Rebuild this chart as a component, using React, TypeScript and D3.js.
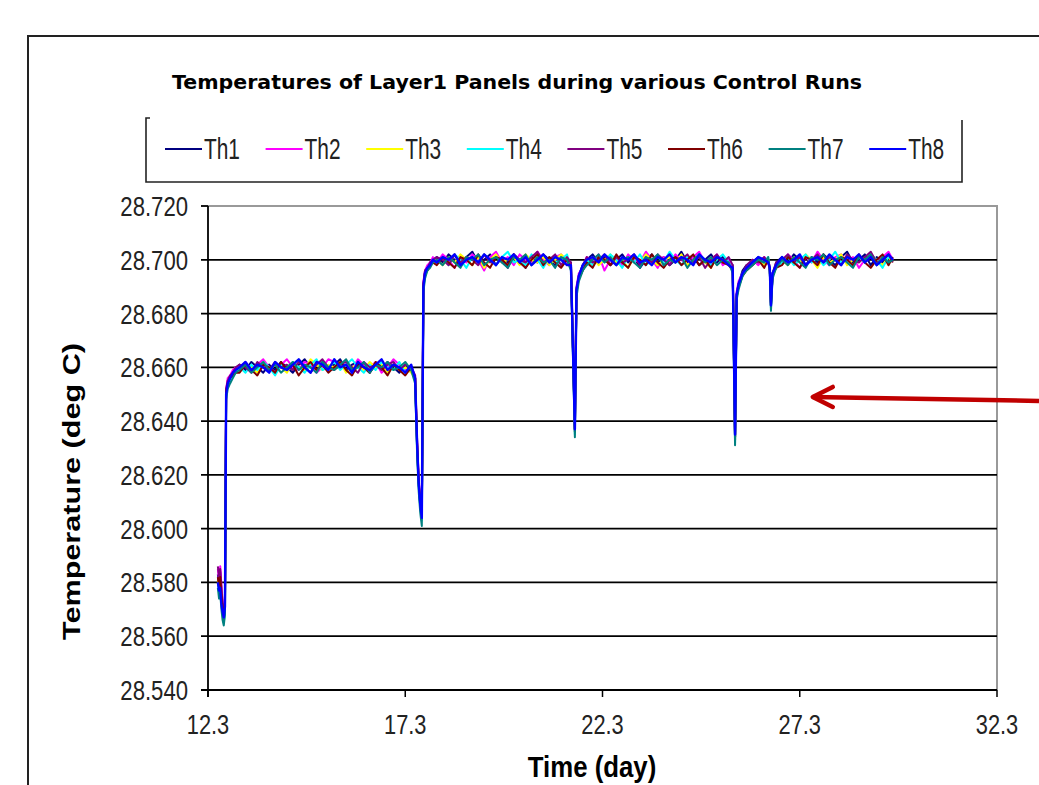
import React from 'react';
import * as d3 from 'd3';

// time axis shared by all eight thermistors (day)
const days = [
  12.55, 12.58, 12.61, 12.64, 12.67, 12.70, 12.73, 12.76, 12.80, 12.86, 12.93, 13.00,
  13.10, 13.25, 13.40, 13.55, 13.70, 13.85, 14.00, 14.15, 14.30, 14.45, 14.60, 14.75, 14.90, 15.05, 15.20,
  15.35, 15.50, 15.65, 15.80, 15.95, 16.10, 16.25, 16.40, 16.55, 16.70, 16.85, 17.00, 17.15, 17.30, 17.45,
  17.55, 17.60, 17.64, 17.68, 17.72, 17.76, 17.80, 17.86, 17.93, 18.00,
  18.10, 18.25, 18.40, 18.55, 18.70, 18.85, 19.00, 19.15, 19.30, 19.45, 19.60, 19.75, 19.90, 20.05, 20.20,
  20.35, 20.50, 20.65, 20.80, 20.95, 21.10, 21.25, 21.40,
  21.50, 21.60, 21.64, 21.70, 21.80,
  21.90, 22.05, 22.20, 22.35, 22.50, 22.65, 22.80, 22.95, 23.10, 23.25, 23.40, 23.55, 23.70, 23.85, 24.00,
  24.15, 24.30, 24.45, 24.60, 24.75, 24.90, 25.05, 25.20, 25.35, 25.50,
  25.60, 25.66, 25.70, 25.75, 25.85, 25.95,
  26.10, 26.25, 26.40, 26.50,
  26.54, 26.57, 26.61, 26.70,
  26.85, 27.00, 27.15, 27.30, 27.45, 27.60, 27.75, 27.90, 28.05, 28.20, 28.35, 28.50, 28.65, 28.80, 28.95,
  29.10, 29.25, 29.40, 29.55, 29.66,
];

const th1 = [
  28.583, 28.579, 28.584, 28.577, 28.571, 28.567, 28.571, 28.651, 28.655, 28.656, 28.658, 28.659,
  28.661, 28.659, 28.662, 28.660, 28.658, 28.661, 28.659, 28.662, 28.660, 28.658, 28.661, 28.663, 28.660, 28.659, 28.662,
  28.660, 28.661, 28.663, 28.659, 28.661, 28.662, 28.660, 28.658, 28.661, 28.659, 28.662, 28.660, 28.658, 28.661, 28.659,
  28.656, 28.631, 28.617, 28.609, 28.604, 28.691, 28.695, 28.697, 28.699, 28.700,
  28.701, 28.699, 28.702, 28.700, 28.698, 28.701, 28.703, 28.699, 28.700, 28.702, 28.698, 28.701, 28.699, 28.702, 28.700,
  28.697, 28.701, 28.699, 28.702, 28.700, 28.698, 28.701, 28.699,
  28.699, 28.637, 28.689, 28.694, 28.698,
  28.700, 28.702, 28.699, 28.701, 28.698, 28.700, 28.702, 28.699, 28.701, 28.697, 28.700, 28.702, 28.699, 28.701, 28.698,
  28.700, 28.703, 28.699, 28.701, 28.698, 28.700, 28.702, 28.699, 28.701, 28.699,
  28.698, 28.634, 28.687, 28.691, 28.696, 28.698,
  28.699, 28.701, 28.698, 28.700,
  28.697, 28.683, 28.694, 28.699,
  28.701, 28.699, 28.702, 28.700, 28.698, 28.701, 28.699, 28.702, 28.700, 28.698, 28.701, 28.703, 28.699, 28.700, 28.702,
  28.698, 28.701, 28.699, 28.702, 28.700,
];

const th2 = [
  28.585, 28.581, 28.586, 28.579, 28.573, 28.568, 28.574, 28.652, 28.656, 28.657, 28.659, 28.660,
  28.660, 28.662, 28.659, 28.661, 28.663, 28.660, 28.658, 28.661, 28.663, 28.660, 28.659, 28.662, 28.661, 28.658, 28.660,
  28.663, 28.662, 28.660, 28.661, 28.659, 28.663, 28.661, 28.660, 28.662, 28.658, 28.660, 28.663, 28.661, 28.659, 28.660,
  28.657, 28.633, 28.619, 28.611, 28.606, 28.692, 28.696, 28.698, 28.699, 28.701,
  28.699, 28.702, 28.700, 28.697, 28.701, 28.699, 28.702, 28.700, 28.696, 28.701, 28.703, 28.699, 28.701, 28.698, 28.702,
  28.700, 28.699, 28.703, 28.700, 28.698, 28.701, 28.702, 28.699,
  28.698, 28.638, 28.690, 28.695, 28.697,
  28.701, 28.699, 28.702, 28.696, 28.700, 28.701, 28.698, 28.702, 28.700, 28.699, 28.703, 28.700, 28.697, 28.701, 28.699,
  28.702, 28.700, 28.698, 28.701, 28.703, 28.699, 28.700, 28.702, 28.698, 28.700,
  28.697, 28.635, 28.688, 28.692, 28.695, 28.697,
  28.700, 28.698, 28.701, 28.699,
  28.698, 28.684, 28.695, 28.698,
  28.699, 28.702, 28.700, 28.697, 28.701, 28.699, 28.703, 28.700, 28.698, 28.701, 28.702, 28.699, 28.701, 28.697, 28.700,
  28.702, 28.699, 28.701, 28.703, 28.700,
];

const th3 = [
  28.581, 28.577, 28.580, 28.574, 28.569, 28.566, 28.570, 28.650, 28.654, 28.655, 28.657, 28.659,
  28.659, 28.661, 28.660, 28.658, 28.662, 28.659, 28.661, 28.660, 28.658, 28.662, 28.660, 28.659, 28.663, 28.661, 28.659,
  28.661, 28.660, 28.662, 28.658, 28.660, 28.661, 28.659, 28.662, 28.660, 28.661, 28.658, 28.661, 28.659, 28.660, 28.658,
  28.656, 28.632, 28.617, 28.610, 28.605, 28.690, 28.694, 28.696, 28.698, 28.699,
  28.700, 28.698, 28.701, 28.699, 28.702, 28.700, 28.698, 28.701, 28.697, 28.700, 28.702, 28.699, 28.700, 28.701, 28.698,
  28.702, 28.700, 28.699, 28.701, 28.698, 28.700, 28.702, 28.700,
  28.698, 28.637, 28.689, 28.693, 28.697,
  28.699, 28.701, 28.698, 28.700, 28.702, 28.699, 28.700, 28.697, 28.701, 28.699, 28.702, 28.700, 28.698, 28.700, 28.701,
  28.699, 28.702, 28.698, 28.700, 28.701, 28.699, 28.697, 28.701, 28.700, 28.698,
  28.697, 28.634, 28.686, 28.690, 28.695, 28.697,
  28.699, 28.700, 28.698, 28.700,
  28.697, 28.683, 28.694, 28.698,
  28.700, 28.698, 28.701, 28.699, 28.702, 28.700, 28.697, 28.701, 28.699, 28.700, 28.702, 28.698, 28.700, 28.701, 28.699,
  28.702, 28.700, 28.698, 28.701, 28.699,
];

const th4 = [
  28.580, 28.576, 28.579, 28.573, 28.568, 28.565, 28.569, 28.649, 28.653, 28.655, 28.657, 28.658,
  28.660, 28.658, 28.661, 28.659, 28.662, 28.660, 28.657, 28.661, 28.659, 28.662, 28.660, 28.658, 28.661, 28.663, 28.659,
  28.660, 28.662, 28.659, 28.661, 28.663, 28.660, 28.658, 28.661, 28.659, 28.662, 28.660, 28.659, 28.662, 28.658, 28.660,
  28.655, 28.630, 28.616, 28.608, 28.603, 28.689, 28.694, 28.696, 28.698, 28.700,
  28.699, 28.701, 28.698, 28.702, 28.700, 28.697, 28.701, 28.699, 28.702, 28.700, 28.698, 28.701, 28.703, 28.699, 28.700,
  28.698, 28.702, 28.700, 28.697, 28.701, 28.699, 28.700, 28.702,
  28.697, 28.635, 28.688, 28.693, 28.697,
  28.700, 28.698, 28.701, 28.699, 28.702, 28.700, 28.697, 28.701, 28.699, 28.702, 28.698, 28.700, 28.701, 28.699, 28.703,
  28.700, 28.698, 28.701, 28.699, 28.702, 28.700, 28.698, 28.700, 28.702, 28.699,
  28.696, 28.632, 28.686, 28.690, 28.694, 28.697,
  28.698, 28.700, 28.699, 28.701,
  28.696, 28.682, 28.694, 28.697,
  28.699, 28.701, 28.698, 28.700, 28.702, 28.699, 28.701, 28.698, 28.700, 28.703, 28.699, 28.700, 28.698, 28.701, 28.699,
  28.702, 28.700, 28.697, 28.701, 28.700,
];

const th5 = [
  28.586, 28.582, 28.585, 28.578, 28.572, 28.568, 28.573, 28.652, 28.655, 28.657, 28.658, 28.660,
  28.661, 28.660, 28.658, 28.662, 28.660, 28.659, 28.662, 28.660, 28.661, 28.659, 28.662, 28.660, 28.658, 28.661, 28.663,
  28.660, 28.659, 28.661, 28.662, 28.660, 28.658, 28.662, 28.660, 28.661, 28.659, 28.661, 28.662, 28.659, 28.661, 28.660,
  28.657, 28.633, 28.618, 28.610, 28.605, 28.691, 28.696, 28.697, 28.699, 28.700,
  28.701, 28.700, 28.698, 28.702, 28.699, 28.701, 28.700, 28.698, 28.702, 28.699, 28.701, 28.700, 28.697, 28.702, 28.700,
  28.699, 28.701, 28.703, 28.699, 28.700, 28.702, 28.698, 28.701,
  28.699, 28.637, 28.689, 28.694, 28.698,
  28.701, 28.699, 28.700, 28.702, 28.698, 28.701, 28.699, 28.700, 28.702, 28.698, 28.701, 28.699, 28.702, 28.700, 28.698,
  28.701, 28.700, 28.702, 28.699, 28.701, 28.697, 28.700, 28.702, 28.699, 28.701,
  28.698, 28.634, 28.687, 28.691, 28.695, 28.698,
  28.700, 28.699, 28.701, 28.699,
  28.697, 28.684, 28.695, 28.699,
  28.700, 28.702, 28.699, 28.701, 28.698, 28.700, 28.702, 28.699, 28.701, 28.700, 28.698, 28.702, 28.700, 28.699, 28.701,
  28.703, 28.699, 28.700, 28.702, 28.699,
];

const th6 = [
  28.582, 28.578, 28.582, 28.575, 28.570, 28.567, 28.572, 28.651, 28.654, 28.656, 28.657, 28.658,
  28.658, 28.661, 28.659, 28.657, 28.661, 28.660, 28.658, 28.662, 28.659, 28.661, 28.657, 28.660, 28.662, 28.659, 28.661,
  28.658, 28.660, 28.662, 28.659, 28.657, 28.661, 28.660, 28.658, 28.662, 28.660, 28.657, 28.661, 28.659, 28.657, 28.660,
  28.656, 28.631, 28.617, 28.609, 28.604, 28.690, 28.695, 28.696, 28.698, 28.699,
  28.698, 28.701, 28.699, 28.697, 28.701, 28.700, 28.698, 28.702, 28.699, 28.697, 28.701, 28.700, 28.698, 28.702, 28.699,
  28.697, 28.700, 28.702, 28.698, 28.701, 28.699, 28.697, 28.700,
  28.697, 28.636, 28.688, 28.693, 28.696,
  28.699, 28.697, 28.701, 28.700, 28.698, 28.702, 28.699, 28.697, 28.701, 28.700, 28.698, 28.702, 28.699, 28.697, 28.700,
  28.701, 28.698, 28.700, 28.702, 28.698, 28.700, 28.697, 28.701, 28.699, 28.698,
  28.696, 28.633, 28.686, 28.690, 28.694, 28.696,
  28.698, 28.700, 28.697, 28.700,
  28.696, 28.683, 28.694, 28.697,
  28.698, 28.701, 28.699, 28.697, 28.701, 28.700, 28.698, 28.702, 28.699, 28.697, 28.701, 28.700, 28.698, 28.702, 28.699,
  28.697, 28.700, 28.702, 28.698, 28.701,
];

const th7 = [
  28.578, 28.574, 28.576, 28.570, 28.566, 28.564, 28.568, 28.648, 28.652, 28.654, 28.656, 28.658,
  28.659, 28.661, 28.658, 28.660, 28.662, 28.659, 28.661, 28.658, 28.660, 28.662, 28.659, 28.661, 28.660, 28.658, 28.662,
  28.660, 28.659, 28.661, 28.663, 28.659, 28.660, 28.662, 28.658, 28.661, 28.660, 28.662, 28.659, 28.660, 28.662, 28.659,
  28.654, 28.628, 28.614, 28.606, 28.601, 28.688, 28.693, 28.696, 28.697, 28.699,
  28.700, 28.698, 28.701, 28.699, 28.697, 28.701, 28.700, 28.702, 28.698, 28.700, 28.701, 28.699, 28.697, 28.701, 28.700,
  28.702, 28.698, 28.701, 28.699, 28.700, 28.697, 28.701, 28.700,
  28.696, 28.634, 28.686, 28.692, 28.696,
  28.698, 28.700, 28.702, 28.699, 28.701, 28.698, 28.700, 28.701, 28.699, 28.697, 28.701, 28.700, 28.702, 28.698, 28.700,
  28.699, 28.701, 28.697, 28.700, 28.702, 28.699, 28.701, 28.698, 28.700, 28.699,
  28.695, 28.631, 28.685, 28.689, 28.694, 28.696,
  28.698, 28.700, 28.699, 28.701,
  28.696, 28.681, 28.693, 28.697,
  28.700, 28.698, 28.701, 28.699, 28.697, 28.701, 28.700, 28.702, 28.698, 28.700, 28.701, 28.699, 28.697, 28.701, 28.700,
  28.702, 28.698, 28.701, 28.699, 28.700,
];

const th8 = [
  28.580, 28.577, 28.578, 28.572, 28.569, 28.567, 28.571, 28.650, 28.654, 28.656, 28.658, 28.659,
  28.660, 28.662, 28.659, 28.661, 28.660, 28.658, 28.662, 28.660, 28.659, 28.661, 28.663, 28.660, 28.658, 28.662, 28.661,
  28.659, 28.663, 28.660, 28.661, 28.658, 28.662, 28.660, 28.659, 28.661, 28.663, 28.659, 28.661, 28.660, 28.658, 28.661,
  28.656, 28.632, 28.617, 28.609, 28.604, 28.690, 28.695, 28.697, 28.698, 28.700,
  28.699, 28.701, 28.700, 28.702, 28.698, 28.700, 28.701, 28.699, 28.702, 28.700, 28.698, 28.701, 28.700, 28.702, 28.699,
  28.701, 28.698, 28.700, 28.702, 28.699, 28.701, 28.700, 28.698,
  28.698, 28.637, 28.689, 28.694, 28.698,
  28.700, 28.701, 28.699, 28.702, 28.700, 28.698, 28.701, 28.700, 28.702, 28.699, 28.700, 28.698, 28.701, 28.700, 28.702,
  28.699, 28.701, 28.700, 28.698, 28.702, 28.700, 28.699, 28.701, 28.700, 28.698,
  28.697, 28.635, 28.687, 28.691, 28.695, 28.697,
  28.699, 28.701, 28.700, 28.699,
  28.697, 28.683, 28.695, 28.698,
  28.701, 28.699, 28.700, 28.702, 28.698, 28.700, 28.701, 28.699, 28.702, 28.700, 28.698, 28.701, 28.700, 28.702, 28.699,
  28.701, 28.698, 28.700, 28.702, 28.700,
];

const seriesNames = ['Th1', 'Th2', 'Th3', 'Th4', 'Th5', 'Th6', 'Th7', 'Th8'];
const seriesColors = ['#000080', '#ff00ff', '#ffff00', '#00ffff', '#800080', '#800000', '#008080', '#0000ff'];
const xTicks = [12.3, 17.3, 22.3, 27.3, 32.3];
const yTicks = [28.54, 28.56, 28.58, 28.6, 28.62, 28.64, 28.66, 28.68, 28.7, 28.72];

const W = 1039;
const H = 785;
const plot = { left: 208, right: 997, top: 206, bottom: 690 };
const narrow = "'Liberation Sans', Arial, sans-serif";

export default function App() {
  const x = d3.scaleLinear().domain([12.3, 32.3]).range([plot.left, plot.right]);
  const y = d3.scaleLinear().domain([28.54, 28.72]).range([plot.bottom, plot.top]);
  const values = [th1, th2, th3, th4, th5, th6, th7, th8];
  const line = d3.line<number>()
    .x((_, i) => x(days[i]))
    .y(d => y(d));
  const fmt = d3.format('.3f');

  // arrow pointing into the chart (annotation)
  const tipX = x(27.63), tipY = y(28.649);

  return (
    <svg width={W} height={H} style={{ position: 'absolute', left: 0, top: 0, background: '#fff' }}>
      {/* outer frame */}
      <path d={`M28,${H} V36 H${W}`} fill="none" stroke="#222" strokeWidth={2} />

      <text x={172} y={89} fontFamily="'DejaVu Sans', sans-serif" fontWeight="bold" fontSize={20}
        textLength={690} lengthAdjust="spacingAndGlyphs" fill="#000">
        Temperatures of Layer1 Panels during various Control Runs
      </text>

      {/* legend box (top edge clipped in the original) */}
      <path d="M150,118 H146 V182 H962 V120" fill="none" stroke="#222" strokeWidth={1.6} />
      {seriesNames.map((name, i) => {
        const lx = 165 + i * 100.6;
        return (
          <g key={name}>
            <line x1={lx} x2={lx + 37} y1={149} y2={149} stroke={seriesColors[i]} strokeWidth={2} />
            <text transform={`translate(${lx + 39},159) scale(0.72,1)`} fontFamily={narrow} fontSize={29} fill="#222">
              {name}
            </text>
          </g>
        );
      })}

      {/* plot border */}
      <path d={`M${plot.left},${plot.top} H${plot.right} V${plot.bottom}`} fill="none" stroke="#999" strokeWidth={2} />

      {/* gridlines + y ticks */}
      {yTicks.map(t => (
        t < 28.715 ? (
          <line key={'g' + t} x1={plot.left - 7} x2={plot.right} y1={y(t)} y2={y(t)} stroke="#000" strokeWidth={1.8} />
        ) : (
          <line key={'g' + t} x1={plot.left - 7} x2={plot.left} y1={y(t)} y2={y(t)} stroke="#000" strokeWidth={1.8} />
        )
      ))}
      {yTicks.map(t => (
        <text key={'yl' + t} transform={`translate(188,${y(t) + 10}) scale(0.82,1)`} textAnchor="end"
          fontFamily={narrow} fontSize={27} fill="#222">
          {fmt(t)}
        </text>
      ))}

      {/* series */}
      {values.map((v, i) => (
        <path key={seriesNames[i]} d={line(v) || ''} fill="none" stroke={seriesColors[i]}
          strokeWidth={i === 7 ? 2.4 : 2} strokeLinejoin="round" />
      ))}

      {/* axes */}
      <line x1={plot.left} x2={plot.left} y1={plot.top} y2={plot.bottom + 7} stroke="#000" strokeWidth={1.8} />
      <line x1={plot.left} x2={plot.right} y1={plot.bottom} y2={plot.bottom} stroke="#000" strokeWidth={1.8} />
      {xTicks.map(t => (
        <g key={'x' + t}>
          <line x1={x(t)} x2={x(t)} y1={plot.bottom} y2={plot.bottom + 7} stroke="#000" strokeWidth={1.5} />
          <text transform={`translate(${x(t)},734) scale(0.78,1)`} textAnchor="middle"
            fontFamily={narrow} fontSize={28} fill="#222">
            {t.toFixed(1)}
          </text>
        </g>
      ))}

      <text transform="translate(592,777) scale(0.86,1)" textAnchor="middle" fontFamily={narrow}
        fontWeight="bold" fontSize={30} fill="#000">
        Time (day)
      </text>
      <text transform="translate(80,640) rotate(-90)" fontFamily={narrow} fontWeight="bold" fontSize={24}
        textLength={297} lengthAdjust="spacingAndGlyphs" fill="#000">
        Temperature (deg C)
      </text>

      {/* red arrow */}
      <line x1={W} y1={tipY + 4} x2={tipX} y2={tipY} stroke="#c00000" strokeWidth={4.5} />
      <polyline points={`${tipX + 20},${tipY - 10} ${tipX},${tipY} ${tipX + 20},${tipY + 10}`}
        fill="none" stroke="#c00000" strokeWidth={4.5} strokeLinecap="round" strokeLinejoin="round" />
    </svg>
  );
}
